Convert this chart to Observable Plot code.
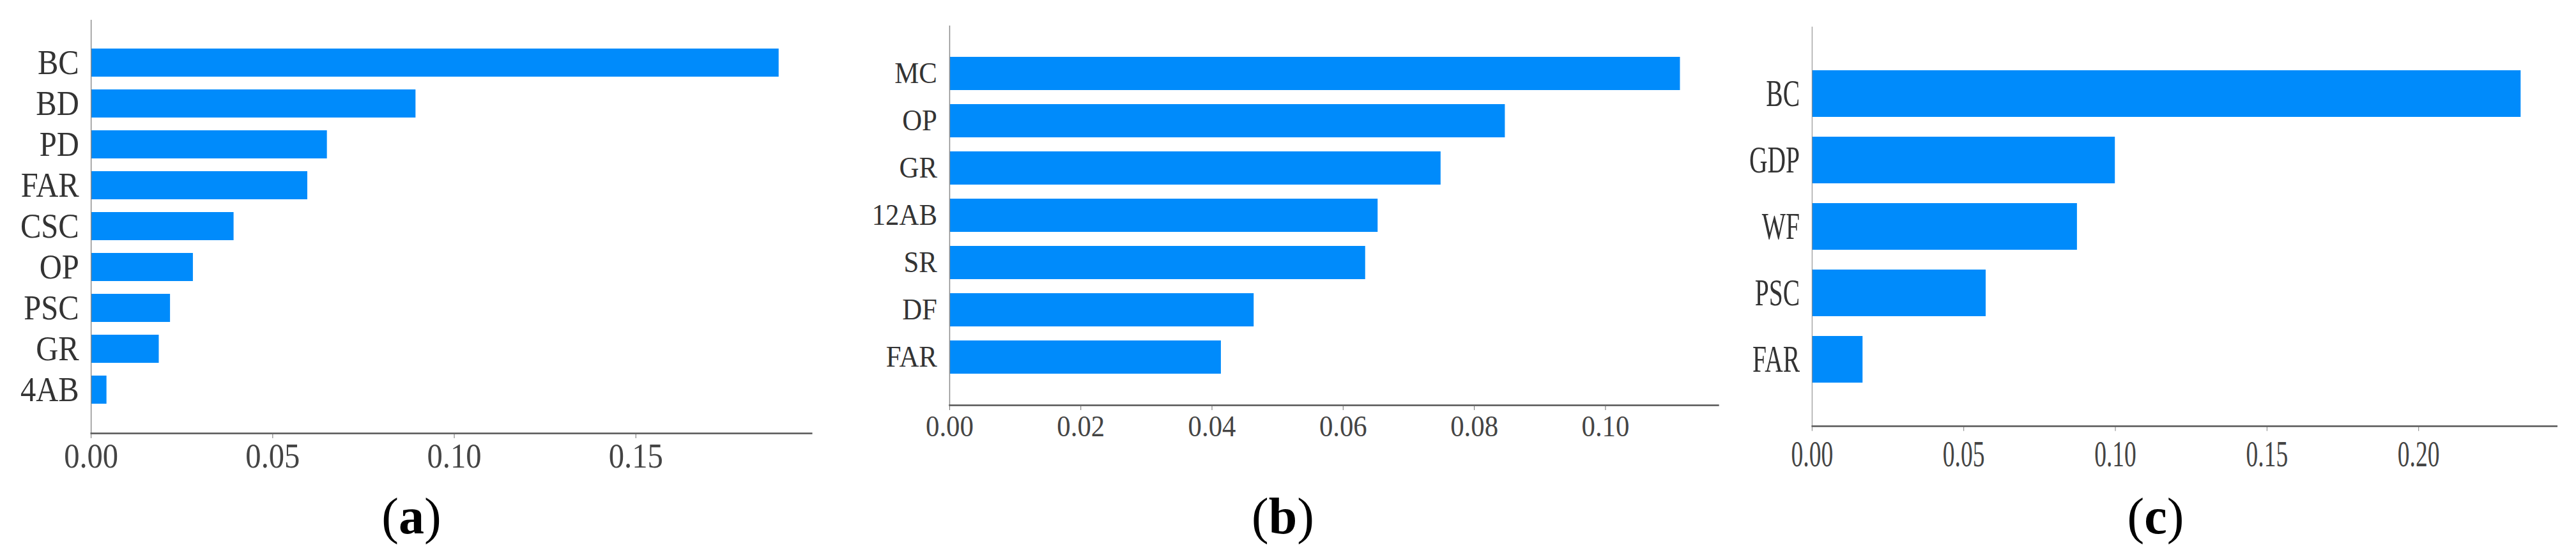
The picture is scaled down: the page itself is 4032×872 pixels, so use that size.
<!DOCTYPE html>
<html>
<head>
<meta charset="utf-8">
<script src="https://cdn.jsdelivr.net/npm/d3@7"></script>
<script src="https://cdn.jsdelivr.net/npm/@observablehq/plot@0.6"></script>
<style>
  html, body { margin: 0; padding: 0; background: #fff; }
  body { width: 4032px; height: 872px; position: relative; overflow: hidden; }
  .panel { position: absolute; top: 0; transform-origin: 0 0; }
  .panel svg { display: block; max-width: none; overflow: hidden; }
  .cap { position: absolute; top: 768px; width: 400px; text-align: center;
         font-family: "Liberation Serif", "Times New Roman", serif; font-size: 80px;
         line-height: 1; color: #000; }
</style>
</head>
<body>
<script>
// Panel (a)
const labelsA = ["BC", "BD", "PD", "FAR", "CSC", "OP", "PSC", "GR", "4AB"];
const valuesA = [0.1894, 0.0894, 0.0650, 0.0596, 0.0393, 0.0281, 0.0218, 0.0187, 0.0043];
const ticksA = [0, 0.05, 0.10, 0.15];
// Panel (b)
const labelsB = ["MC", "OP", "GR", "12AB", "SR", "DF", "FAR"];
const valuesB = [0.1114, 0.0847, 0.0749, 0.0653, 0.0634, 0.0464, 0.0414];
const ticksB = [0, 0.02, 0.04, 0.06, 0.08, 0.10];
// Panel (c)
const labelsC = ["BC", "GDP", "WF", "PSC", "FAR"];
const valuesC = [0.2337, 0.0999, 0.0874, 0.0573, 0.0167];
const ticksC = [0, 0.05, 0.10, 0.15, 0.20];
const captions = ["a", "b", "c"];

const BAR = "#008bfb";
const FONT = "'Liberation Serif', 'Times New Roman', serif";

const panels = [
  {labels: labelsA, values: valuesA, ticks: ticksA, xmax: 0.1984, left: 0, sx: 0.9,
   width: 1431, height: 760, mt: 31, mb: 82, ml: 158, mr: 20, pad: 0.31, it: 21.6, ib: 23,
   fs: 54, tfs: 54, tp: 7, lp: 21, cap: 644},
  {labels: labelsB, values: valuesB, ticks: ticksB, xmax: 0.1172, left: 1350, sx: 0.93,
   width: 1460, height: 720, mt: 40, mb: 86, ml: 146.2, mr: 20.2, pad: 0.30, it: 26, ib: 25.7,
   fs: 46, tfs: 46, tp: 8, lp: 21, cap: 2008},
  {labels: labelsC, values: valuesC, ticks: ticksC, xmax: 0.2456, left: 2700, sx: 0.67,
   width: 1963, height: 750, mt: 41.7, mb: 83.3, ml: 203, mr: 20, pad: 0.30, it: 36.3, ib: 36.4,
   fs: 59, tfs: 56, tp: 15, lp: 28.8, cap: 3374}
];

panels.forEach((p, i) => {
  const data = p.labels.map((l, k) => ({label: l, value: p.values[k]}));
  const chart = Plot.plot({
    width: p.width,
    height: p.height,
    marginTop: p.mt,
    marginBottom: p.mb,
    marginLeft: p.ml,
    marginRight: p.mr,
    style: {fontFamily: FONT, background: "none", color: "#444", overflow: "hidden"},
    x: {domain: [0, p.xmax]},
    y: {domain: p.labels, padding: p.pad, insetTop: p.it, insetBottom: p.ib},
    marks: [
      Plot.barX(data, {x: "value", y: "label", fill: BAR}),
      Plot.ruleX([0], {stroke: "#8a8a8a", strokeWidth: 1.6}),
      Plot.frame({anchor: "bottom", stroke: "#555", strokeWidth: 2.6}),
      Plot.axisX({ticks: p.ticks, tickFormat: d3.format(".2f"), tickSize: 8, tickPadding: p.tp,
                  fontSize: p.tfs, stroke: "#666", fill: "#444", label: null}),
      Plot.axisY({tickSize: 0, tickPadding: p.lp, fontSize: p.fs, fill: "#333", label: null})
    ]
  });
  const div = document.createElement("div");
  div.className = "panel";
  div.style.left = p.left + "px";
  div.style.width = p.width + "px";
  div.style.transform = `scaleX(${p.sx})`;
  div.appendChild(chart);
  document.body.appendChild(div);

  const cap = document.createElement("div");
  cap.className = "cap";
  cap.style.left = (p.cap - 200) + "px";
  cap.innerHTML = `(<b>${captions[i]}</b>)`;
  document.body.appendChild(cap);
});
</script>
</body>
</html>
